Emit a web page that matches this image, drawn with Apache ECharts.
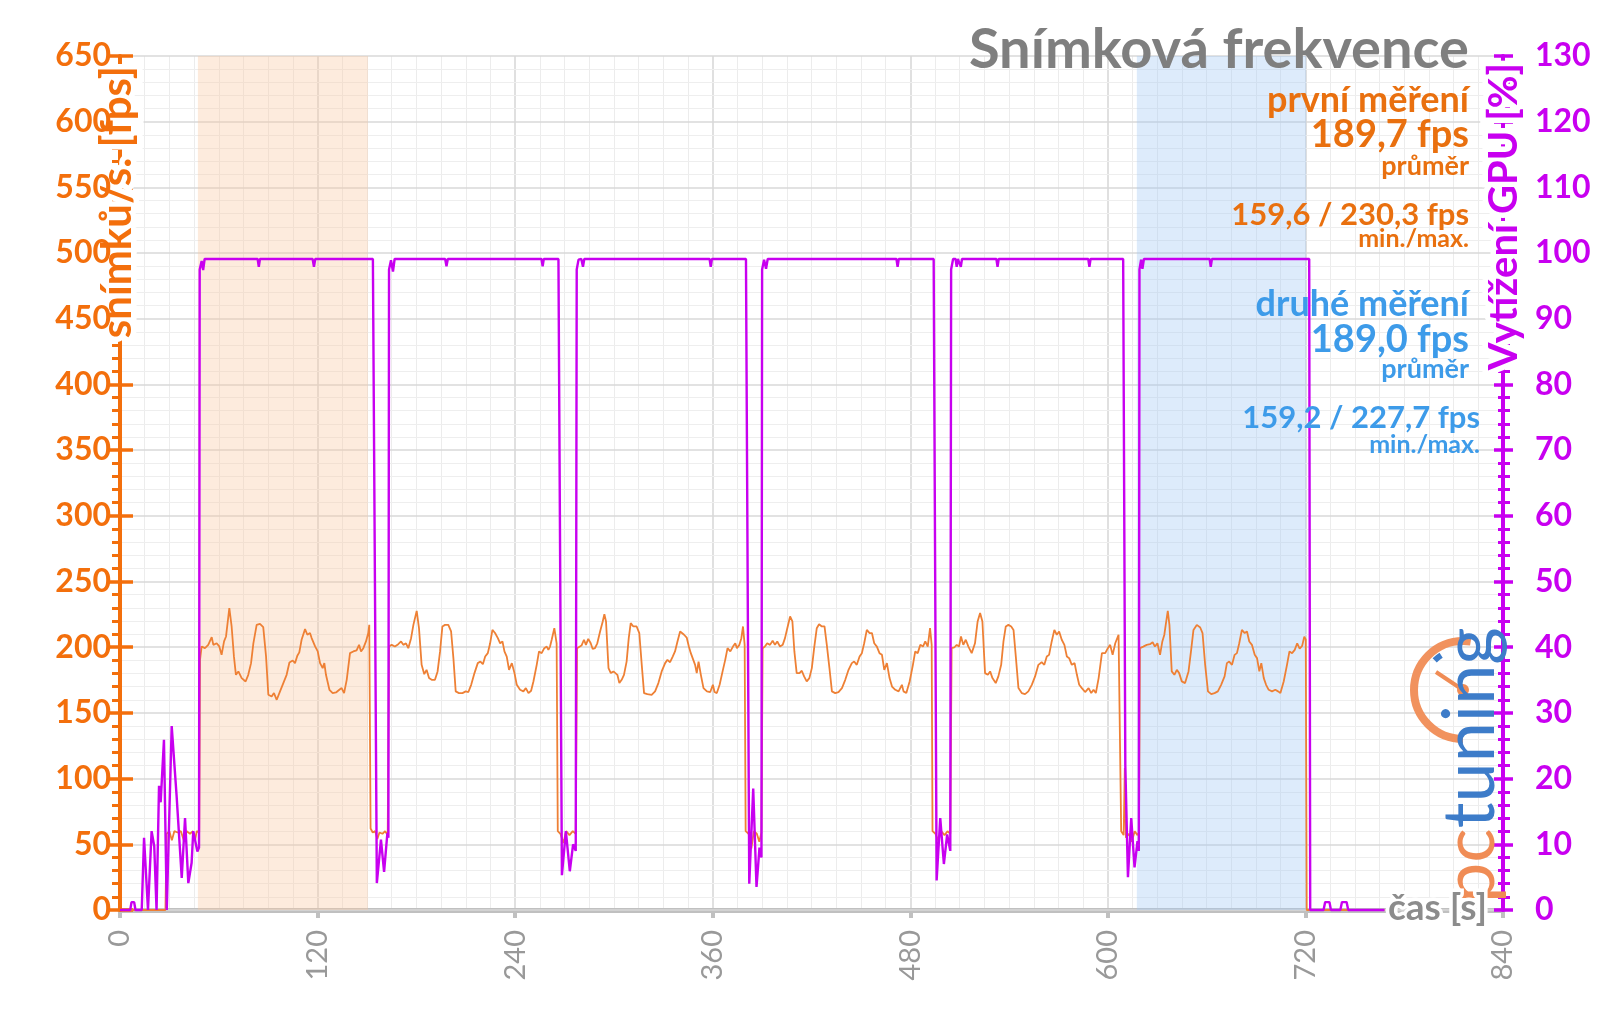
<!DOCTYPE html>
<html><head><meta charset="utf-8">
<script src="https://cdn.jsdelivr.net/npm/echarts@6/dist/echarts.min.js"></script>
<style>html,body{margin:0;padding:0;background:#fff}#c{width:1600px;height:1009px}</style>
</head><body><div id="c"></div>
<script>
// ---- tick labels ----
const xTickLabels = [0,120,240,360,480,600,720,840];
const fpsTickLabels = [0,50,100,150,200,250,300,350,400,450,500,550,600,650];
const gpuTickLabels = [0,10,20,30,40,50,60,70,80,90,100,110,120,130];

// ---- shaded test windows [start s, end s] ----
const bandFirst = [47.3, 150.6];
const bandSecond = [617.6, 720.4];

// ---- frame rate [time s, fps] ----
const fpsData = [
[0,0],[27.6,0],[28.3,58],[30,60],[31.5,53],[33,60],[35,59],[37,60],[39,52],[40.5,60],[42.5,58],[44.3,60],[45.6,53],[46.6,60],[48.1,59],
[48.6,190.4],[49.6,200.6],[51.6,199.3],[53.6,201.8],[55.7,207.7],[56.7,201.8],[58.7,203],[60.3,200.6],[61.7,194.2],[63.2,204.4],[64.4,208.2],[66.4,229.7],[67.8,215.8],[69.2,193],[70.4,179],[71.9,181.6],[73.9,176.5],[76.3,173.9],[77.9,179],[79.6,187.9],[81,203],[83,217],[85,217.8],[87,215.3],[88.7,193],[90.1,163.8],[92.1,162.5],[93.5,165.1],[95.2,160],[97.2,166.4],[99.2,172.7],[101.2,179],[102.9,188.4],[104.9,189.9],[106.3,187.9],[107.7,193.5],[108.9,196.1],[110.3,205.7],[112.4,213.8],[113.8,209.5],[115.4,210.8],[116.4,207],[117.4,205.7],[118.5,200.6],[120.1,196.8],[121.5,187.9],[123.1,184.1],[124.1,187.9],[125.1,179],[127.2,167.6],[129.2,165.1],[131.2,165.6],[133.2,167.6],[134.6,168.9],[136.1,165.1],[137.7,175.2],[139.7,195.5],[141.7,196.8],[143.7,197.6],[145.2,201.8],[146.4,196.8],[147.8,199.3],[149.4,204.4],[150.8,210.8],[151.4,217.1],
[152.2,62],[153.5,59],[155,60],[156.3,54],[157.6,59],[159.4,58],[161,60],[162.6,57],[163.1,58],
[163.4,200.5],[165,201.8],[167,200.5],[169,202.3],[170.7,204.4],[172.1,201.8],[173.7,203],[175.1,199.3],[176.8,206.9],[178.2,217],[180.2,227.7],[181.6,214.5],[183.2,186.6],[184.8,179.5],[186.2,182.8],[187.7,176.5],[189.3,175.2],[191.3,175.2],[192.9,181.6],[194.4,196.8],[195.8,215.8],[197.4,217],[199.4,217],[201.1,212],[202.5,191.7],[203.9,166.4],[205.9,165.1],[208,165.1],[210,166.4],[211.6,165.9],[213.3,171.4],[215.3,180.3],[217.3,187.9],[218.9,189.1],[220.4,187.1],[221.8,192.9],[223.4,195.5],[224.8,203],[226.2,213.2],[227.8,210.8],[229.5,206.9],[230.9,203],[232.3,204.4],[233.5,196.8],[234.9,192.9],[236.3,182.8],[238,187.9],[239.6,180.3],[241,171.4],[243,167.6],[245,166.4],[246.5,168.9],[248.1,165.1],[249.7,166.9],[251.1,173.9],[253.1,186.6],[254.5,196.8],[256.1,195.5],[257.7,199.3],[259.2,200.5],[260.2,198],[261.2,200.5],[262.2,205.7],[263.8,214.5],[265.2,203],
[265.9,60],[267.5,58],[269.3,51],[271,60],[273,57],[275,60],[276.8,58],[277.4,59],
[277.6,199.3],[278.8,200.5],[280.3,201.3],[281.8,205.7],[283,201.8],[284.4,206.4],[285.9,203],[287.1,198.7],[288.5,199.3],[289.9,203],[291.6,212],[293.2,219.6],[294.2,225.2],[295.2,219.6],[296.7,184.1],[298.1,180.3],[299.7,181.6],[300.9,182.8],[302.1,179],[303.3,172.7],[304.7,175.2],[306.1,179],[307.7,189.1],[309,206.9],[310.2,218.3],[311.8,215.8],[313.8,215.8],[315.4,210.8],[316.9,186.6],[318.3,165.1],[320.3,164.3],[322.9,163.8],[325,166.4],[327,172.7],[329,181.6],[331.1,187.9],[332.5,190.4],[334.1,188.6],[335.7,192.9],[337.1,196.8],[338.6,204.4],[340.2,212],[341.4,213.2],[342.6,209.5],[344.2,207.4],[345.5,200.5],[346.7,195.5],[347.9,196.8],[349.3,186.6],[350.3,180.3],[351.4,189.1],[352.8,179],[354.4,168.9],[356.5,166.4],[358.5,165.9],[360.1,171.4],[361.1,165.9],[362.5,165.1],[364.2,171.4],[366,181.6],[367.6,190.4],[369,199.3],[370.7,196.8],[372.3,200.5],[373.7,203],[374.7,199.3],[376.2,201.8],[377.4,206.9],[378.4,215.8],[379.4,201.8],
[380,60],[381.8,58],[383.5,47],[385,60],[386.8,58],[388.3,52],[389.6,59],
[390.3,199.3],[391.7,200.5],[393.1,203],[394.8,201.8],[396.4,204.9],[397.8,201.8],[399.2,204.4],[400.9,200.5],[402.5,201.8],[403.9,206.9],[405.3,214.5],[407,223.4],[408.4,219.6],[409.6,196.8],[411,180.3],[412.7,180.3],[414.1,182.1],[415.5,177.8],[417.1,174],[418.7,176.5],[420.2,184.1],[421.6,199.3],[423.2,214.5],[424.6,217.5],[426.3,215.8],[427.9,215.8],[429.3,201.8],[430.9,184.1],[432.4,166.4],[434.4,165.1],[436.4,165.9],[438.5,168.9],[440.5,175.2],[442.5,182.8],[444.5,187.9],[445.9,189.1],[447.5,186.6],[449.2,192.9],[450.6,195.5],[452,203],[453.6,213.2],[455.3,210.8],[456.7,210.8],[458.1,203],[459.7,200.5],[461.3,195.5],[462.8,194.2],[464.2,182.8],[465.8,187.9],[467.4,176.5],[468.9,170.1],[470.9,167.6],[472.9,166.4],[474.9,171.4],[475.9,166.4],[477.6,165.1],[479.6,173.9],[481.6,186.6],[483,196.8],[484.5,195.5],[486.1,201.8],[487.7,200.5],[489.1,204.4],[490.6,200.5],[492,214.5],[493,201.8],
[493.5,60],[495.3,58],[497,53],[498.8,60],[500.8,57],[502.6,60],[504.3,58],
[505.1,199.3],[506.7,199.8],[508.2,201.8],[509.6,200.5],[510.8,208.2],[512.2,201.8],[513.7,205.7],[515.3,200.5],[517.3,195.5],[519.3,203],[520.9,219.6],[522.4,226],[523.8,219.6],[525.4,180.3],[527.1,179],[528.5,181.6],[529.9,176.5],[531.9,172.7],[533.5,177.8],[535.2,186.6],[536.6,204.4],[538,215.8],[539.6,217],[541.3,215.8],[542.7,213.2],[544.1,192.9],[545.7,168.9],[547.7,165.1],[549.7,164.3],[551.7,166.4],[553.8,171.4],[555.8,177.8],[557.8,186.6],[559.8,188.6],[561.4,186.6],[562.9,192.9],[564.3,194.2],[565.9,204.4],[567.5,213.2],[569,209.5],[570.4,212],[572,205.7],[573.6,201.8],[575.1,192.9],[576.5,191.7],[578.1,186.6],[579.8,187.9],[581.2,179],[582.6,171.4],[584.2,168.9],[586.2,165.9],[588.3,168.9],[589.9,165.1],[591.3,167.6],[592.7,165.1],[594.4,176.5],[596.4,195.5],[598.4,195.5],[600,199.3],[601.4,201.8],[602.9,194.2],[604.5,203],[606.5,209.5],[607.5,210.8],
[608.1,60],[609.6,57],[610.3,108],[611,55],[612.8,58],[614.5,52],[616.3,60],[618,57],[618.9,59],
[619.5,199.3],[621.5,200.5],[623.6,201.8],[625.6,202.3],[627.2,203.8],[628.6,200.5],[630.1,203],[631.7,194.2],[633.1,204.4],[634.3,209.5],[635.3,218.3],[636.4,227.7],[637.4,217],[638.8,181.6],[640.4,179],[641.9,182.8],[643.3,180.3],[644.9,174],[646.9,172.7],[649,181.6],[650.6,198],[652,213.2],[654,217],[656.1,215],[657.5,210.8],[659.1,186.6],[660.8,166.4],[662.8,164.3],[664.8,165.1],[666.8,166.4],[668.8,171.4],[670.9,177.8],[672.3,187.9],[673.7,189.1],[675.4,186.6],[677,194.2],[678.4,195.5],[679.8,203],[681.4,213.2],[683.1,210.8],[684.5,212],[685.9,204.4],[687.5,201.8],[689.2,194.2],[690.6,191.7],[692,181.6],[693.2,187.9],[694.7,176.5],[696.1,171.4],[697.7,167.6],[699.7,166.4],[701.7,167.6],[703.4,166.4],[704.8,165.1],[706.8,173.9],[708.8,186.6],[710.3,196.8],[711.9,195.5],[713.5,198],[715,203],[716.5,199],[718,201],[719.3,208],[720.2,206],
[720.8,0],[768,0]
];

// ---- GPU load [time s, %] ----
const gpuData = [
[0,0],[6.2,0],[7,1.2],[8.6,1.2],[9.4,0],[13.2,0],[14.6,11],[17,0],[19.2,12],[20.8,9.7],[22.2,0],[23.7,18.9],[24.7,16.4],[26.7,25.9],[28.4,0],[31.4,28],[34.4,17.3],[37.5,4.9],[39.5,14],[41.5,4.1],[43.5,7.2],[44.5,12],[47,8.9],[48,9.5],
[48.4,97.5],[49.6,98.8],[50.5,97.4],[51.4,99.1],[83.6,99.1],[84.3,97.9],[85,99.1],[117,99.1],[117.8,97.9],[118.6,99.1],[153.6,99.1],
[156,4.1],[158.5,10.7],[160.4,5.8],[162.4,11.7],[163,11],
[163.4,97.5],[164.6,98.9],[165.8,97.2],[166.8,99.1],[197.5,99.1],[198.3,98],[199.1,99.1],[256,99.1],[256.7,98],[257.4,99.1],[266.3,99.1],
[268.4,5.3],[270.8,12],[273.2,5.9],[275.2,10],[276.8,9],
[277.4,97.5],[278.5,99],[280.2,99.1],[281.2,97.9],[282,99.1],[358.1,99.1],[358.8,97.9],[359.5,99.1],[380.2,99.1],
[382.2,4],[384.6,18.5],[386.6,3.5],[388.4,9.5],[389.6,8],
[390,97.5],[391.2,99],[392.4,97.6],[393.4,99.1],[471.6,99.1],[472.3,97.9],[473,99.1],[494.2,99.1],
[496,4.5],[498.2,14],[500.4,7],[502.4,11.5],[504.3,9],
[504.8,97.5],[506,99.1],[507.5,99.1],[508.2,97.9],[508.9,99.1],[510,99.1],[510.7,97.9],[511.4,99.1],[532.3,99.1],[533,97.9],[533.7,99.1],[588.1,99.1],[588.8,97.9],[589.5,99.1],[609.3,99.1],
[610.6,22],[612.2,5],[614.2,14],[616.2,6.5],[618,10.5],[618.8,9],
[619.2,97.5],[620.2,99],[621,97.6],[621.9,99.1],[661.8,99.1],[662.5,97.9],[663.2,99.1],[722.3,99.1],
[722.9,0],[731,0],[732,1.2],[734.6,1.2],[735.5,0],[741.2,0],[742.2,1.2],[745,1.2],[746,0],[768,0]
];

// ---- texts ----
const titleText = 'Snímková frekvence';
const firstRun = ['první měření', '189,7 fps', 'průměr', '159,6 / 230,3 fps', 'min./max.'];
const secondRun = ['druhé měření', '189,0 fps', 'průměr', '159,2 / 227,7 fps', 'min./max.'];

const FONT = 'Lato';
const cOrangeAxis = '#f36f0c', cOrangeText = '#e9700f', cBlue = '#3d9be9', cPurple = '#c800f0', cGray = '#8c8c8c';

function span(arr){ return {min: arr[0], max: arr[arr.length-1], interval: arr[1]-arr[0]}; }
const xs = span(xTickLabels), fs = span(fpsTickLabels), gs = span(gpuTickLabels);

function rt(text, x, y, size, color) {
  return {type:'text', z:100, silent:true, style:{text, x, y, fill:color, font:`bold ${size}px ${FONT}`,
    textAlign:'right', textVerticalAlign:'middle', align:'right', verticalAlign:'middle'}};
}
function vtext(text, x, y, size, color) {
  return {type:'text', z:5, silent:true, x, y, rotation:Math.PI/2, style:{text, x:0, y:0, fill:color,
    font:`bold ${size}px ${FONT}`, textAlign:'right', align:'right', textVerticalAlign:'middle', verticalAlign:'middle',
    stroke:'#fff', lineWidth:11}};
}
function lineAxis(pos, s, color, insideTicks, majorLen, minorLen, showLine, split) {
  return {type:'value', position:pos, min:s.min, max:s.max, interval:s.interval, z:1,
    axisLine:{show:showLine, lineStyle:{color, width:4}},
    axisLabel:{show:false},
    axisTick:{show:true, inside:insideTicks, length:majorLen, lineStyle:{color, width:3.5}},
    minorTick:{show:minorLen>0, splitNumber:5, length:minorLen, lineStyle:{color, width:3}},
    splitLine:{show:split, lineStyle:{color:'#d9d9d9', width:1.5}},
    minorSplitLine:{show:split, lineStyle:{color:'#eeeeee', width:1}}};
}

const chart = echarts.init(document.getElementById('c'), null, {renderer:'canvas'});
chart.setOption({
  animation:false,
  backgroundColor:'#fff',
  grid:{left:120, right:97, top:56, bottom:99, containLabel:false, outerBoundsMode:'none'},
  xAxis:{type:'value', min:xs.min, max:xs.max, interval:xs.interval,
    axisLine:{show:true, onZero:false, lineStyle:{color:'#c0c0c0', width:5}},
    axisTick:{show:true, length:8, lineStyle:{color:'#c0c0c0', width:4}},
    axisLabel:{rotate:90, margin:20, color:'#999', fontSize:29, fontFamily:FONT},
    splitLine:{show:true, lineStyle:{color:'#d6d6d6', width:1.5}},
    minorTick:{show:false, splitNumber:8},
    minorSplitLine:{show:true, lineStyle:{color:'#ececec', width:1}}},
  yAxis:[
    // series axes (labels only, drawn above the axis names)
    {type:'value', position:'left', min:fs.min, max:fs.max, interval:fs.interval, z:10,
      axisLine:{show:false}, axisTick:{show:false}, splitLine:{show:false},
      axisLabel:{margin:9, color:cOrangeAxis, fontSize:32, fontWeight:'bold', fontFamily:FONT}},
    {type:'value', position:'right', min:gs.min, max:gs.max, interval:gs.interval, z:10,
      axisLine:{show:false}, axisTick:{show:false}, splitLine:{show:false},
      axisLabel:{margin:32, color:cPurple, fontSize:32, fontWeight:'bold', fontFamily:FONT}},
    // axis lines, ticks and grid (drawn below the axis names)
    lineAxis('left', fs, cOrangeAxis, false, 11, 8, true, true),
    lineAxis('right', gs, cPurple, false, 10, 7, true, false),
    lineAxis('left', fs, cOrangeAxis, true, 13, 0, false, false),
    lineAxis('right', gs, cPurple, true, 9, 5, false, false)
  ],
  series:[
    {type:'line', name:'fps', xAxisIndex:0, yAxisIndex:0, data:fpsData, symbol:'none', showSymbol:false,
      clip:false, z:3, lineStyle:{color:'#ee8035', width:1.8},
      markArea:{silent:true, data:[
        [{xAxis:bandFirst[0], itemStyle:{color:'rgba(250,200,160,0.36)'}}, {xAxis:bandFirst[1]}],
        [{xAxis:bandSecond[0], itemStyle:{color:'rgba(160,200,245,0.36)'}}, {xAxis:bandSecond[1]}]
      ]}},
    {type:'line', name:'GPU', xAxisIndex:0, yAxisIndex:1, data:gpuData, symbol:'none', showSymbol:false,
      clip:false, z:4, lineStyle:{color:cPurple, width:2.4}}
  ],
  graphic:[
    rt(titleText, 1469, 50, 56, '#7f7f7f'),
    rt(firstRun[0], 1469, 100, 36, cOrangeText),
    rt(firstRun[1], 1469, 135, 38, cOrangeText),
    rt(firstRun[2], 1469, 166, 27, cOrangeText),
    rt(firstRun[3], 1469, 215, 31, cOrangeText),
    rt(firstRun[4], 1469, 239, 25, cOrangeText),
    rt(secondRun[0], 1469, 304, 36, cBlue),
    rt(secondRun[1], 1469, 340, 38, cBlue),
    rt(secondRun[2], 1469, 369, 27, cBlue),
    rt(secondRun[3], 1480, 418, 31, cBlue),
    rt(secondRun[4], 1480, 445, 25, cBlue),
    vtext('snímků/s. [fps]', 117, 66, 42, cOrangeAxis),
    vtext('Vytížení GPU [%]', 1504, 63, 40, cPurple),
    {type:'text', z:100, silent:true, style:{text:'čas [s]', x:1388, y:908, fill:cGray, font:`bold 37px ${FONT}`,
      textAlign:'left', align:'left', textVerticalAlign:'middle', verticalAlign:'middle', stroke:'#fff', lineWidth:7}},
    // logo
    {type:'group', z:90, silent:true, children:[
      {type:'arc', z:90, shape:{cx:1463, cy:690, r:49, startAngle:Math.PI/2, endAngle:Math.PI*1.55, clockwise:true},
        style:{stroke:'#f08c55', lineWidth:8, fill:null, opacity:0.95}},
      {type:'arc', z:91, shape:{cx:1463, cy:690, r:41, startAngle:3.95, endAngle:4.15, clockwise:true},
        style:{stroke:'#3d7cc9', lineWidth:6, fill:null}},
      {type:'line', z:91, shape:{x1:1436, y1:672, x2:1463, y2:690}, style:{stroke:'#f08c55', lineWidth:4}},
      {type:'circle', z:91, shape:{cx:1463, cy:690, r:6}, style:{fill:'#f08c55'}},
      {type:'text', z:91, x:1471, y:903, rotation:Math.PI/2, style:{text:'{o|pc}{b|tuning}', x:0, y:0,
        font:`72px ${FONT}`, textAlign:'left', align:'left', textVerticalAlign:'middle', verticalAlign:'middle',
        rich:{o:{fill:'#f08c55', color:'#f08c55', fontSize:72, fontWeight:'normal', fontFamily:FONT},
              b:{fill:'#3d7cc9', color:'#3d7cc9', fontSize:72, fontWeight:'normal', fontFamily:FONT}}}}
    ]}
  ]
});
</script>
</body></html>
